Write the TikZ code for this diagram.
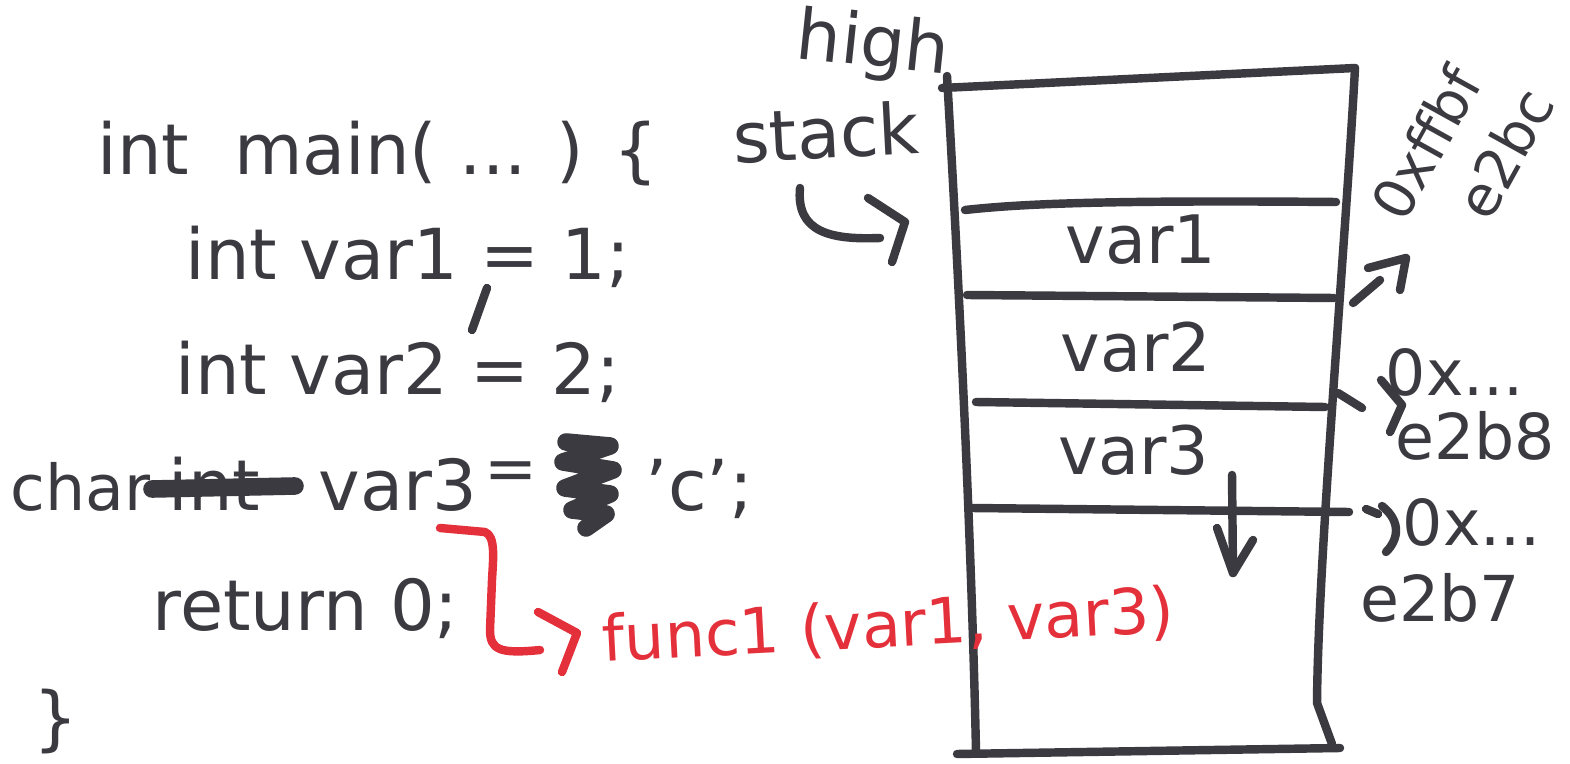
\documentclass[tikz,border=0pt]{standalone}
\usepackage{fontspec}
\setmainfont{DejaVu Sans}
\usetikzlibrary{arrows.meta}
\definecolor{ink}{RGB}{58,58,64}
\definecolor{redink}{RGB}{228,48,58}
\tikzset{
  pen/.style={draw=ink, line width=2.4pt, line cap=round, line join=round},
  redpen/.style={draw=redink, line width=2.4pt, line cap=round, line join=round},
  hand/.style={text=ink, font=\fontsize{20}{24}\selectfont, inner sep=0pt},
  codeline/.style={hand, anchor=base west},
  slotlabel/.style={hand, font=\fontsize{19}{23}\selectfont},
  addr/.style={hand, font=\fontsize{18}{22}\selectfont},
  tiltaddr/.style={hand, font=\fontsize{16}{21}\selectfont, align=left},
  redtext/.style={text=redink, font=\fontsize{18}{22}\selectfont, inner sep=0pt, anchor=base west},
}
\begin{document}
\begin{tikzpicture}[x=0.01cm, y=-0.01cm]
\useasboundingbox (0,0) rectangle (1570,764);

% ---------- source code ----------
\node[codeline] (mainline) at (97,175) {int\ \ main( ... ) \{};
\node[codeline] (line1) at (185,280) {int var1 = 1;};
\coordinate (tickA) at (487,288); \coordinate (tickB) at (472,330);
\draw[pen] (tickA) -- (tickB);
\node[codeline] (line2) at (175,395) {int var2 = 2;};
\node[codeline, font=\fontsize{18}{22}\selectfont] (charkw) at (10,510) {char};
\node[codeline] (oldkw) at (168,510) {int};
\coordinate (strA) at (152,489); \coordinate (strB) at (295,486);
\draw[pen, line width=5pt] (strA) -- (strB);
\node[codeline] (line3) at (318,510) {var3};
\node[hand, font=\fontsize{18}{22}\selectfont] (eq3) at (511,476) {=};
% scribbled-out character
\coordinate (scr) at (566,442);
\draw[pen, line width=5pt] (scr) -- (610,446) -- (563,462) -- (613,470) -- (565,488)
  -- (610,494) -- (572,510) -- (606,514) -- (586,528);
\node[codeline] (charval) at (645,510) {'c';};
\node[codeline] (ret) at (152,630) {return 0;};
\node[codeline] (close) at (33,742) {\}};

% ---------- stack ----------
\coordinate (tl) at (942,88);
\coordinate (tr) at (1355,68);
\coordinate (bl) at (976,752);
\coordinate (br) at (1332,744);
\draw[pen] (tl) -- (tr);
\draw[pen] (947,76) .. controls (960,300) and (972,560) .. (bl);
\draw[pen] (tr) .. controls (1345,250) and (1318,560) .. (1317,703) -- (br);
\draw[pen] (957,754) -- (1340,748);

\coordinate (d1l) at (965,210); \coordinate (d1r) at (1336,202);
\coordinate (d2l) at (967,295); \coordinate (d2r) at (1334,298);
\coordinate (d3l) at (976,402); \coordinate (d3r) at (1325,407);
\coordinate (d4l) at (972,508); \coordinate (d4r) at (1349,512);
\draw[pen] (d1l) .. controls (1020,204) and (1100,200) .. (d1r);
\draw[pen] (d2l) -- (d2r);
\draw[pen] (d3l) -- (d3r);
\draw[pen] (d4l) -- (d4r);

\node[slotlabel] (s1) at (1141,240) {var1};
\node[slotlabel] (s2) at (1136,347) {var2};
\node[slotlabel] (s3) at (1134,450) {var3};

% growth direction
\coordinate (gtop) at (1232,475);
\coordinate (gbot) at (1233,573);
\draw[pen] (gtop) -- (gbot);
\draw[pen] (1217,528) -- (gbot) -- (1253,540);

% ---------- labels left of the stack ----------
\node[hand, rotate=-6] (high) at (873,47) {high};
\node[hand, rotate=3] (stacklbl) at (826,132) {stack};
\coordinate (sarrow) at (905,222);
\draw[pen] (800,188) .. controls (796,232) and (830,240) .. (880,238);
\draw[pen] (868,198) -- (sarrow) -- (892,262);

% ---------- addresses ----------
\coordinate (a1s) at (1353,303); \coordinate (a1e) at (1380,280);
\draw[pen] (a1s) -- (a1e);
\draw[pen] (1368,268) -- (1406,258) -- (1400,290);
\node[tiltaddr, rotate=61] (ad1) at (1462,154) {0xffbf\\\hspace*{12pt}e2bc};

\coordinate (a2s) at (1338,393); \coordinate (a2e) at (1362,408);
\draw[pen] (a2s) -- (a2e);
\draw[pen] (1381,380) -- (1402,405) -- (1390,432);
\node[addr] (ad2) at (1455,372) {0x...};
\node[addr] (ad2b) at (1475,436) {e2b8};

\draw[pen] (1366,509) -- (1378,514);
\draw[pen] (1382,506) .. controls (1402,522) and (1398,540) .. (1386,552);
\node[addr] (ad3) at (1472,522) {0x...};
\node[addr] (ad3b) at (1440,598) {e2b7};

% ---------- function call ----------
\coordinate (rb1) at (440,528);
\coordinate (rb2) at (540,650);
\draw[redpen] (rb1) -- (485,532) .. controls (496,536) and (493,560) .. (492,580)
  -- (490,630) .. controls (490,650) and (500,654) .. (rb2);
\draw[redpen] (538,612) -- (577,633) -- (562,672);
\node[redtext, rotate=3] (call) at (603,662) {func1 (var1, var3)};
\end{tikzpicture}
\end{document}
